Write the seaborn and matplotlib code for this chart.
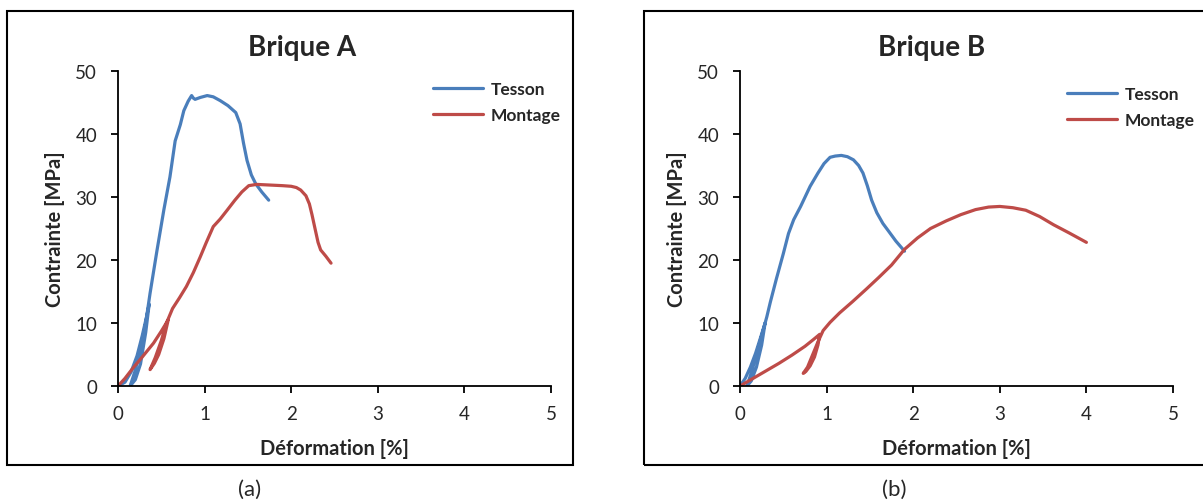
import pandas as pd
import matplotlib
matplotlib.use("Agg")
import matplotlib.pyplot as plt
import seaborn as sns
from matplotlib.patches import Rectangle

# Brique A
tesson_a_x = [0.0, 0.08, 0.15, 0.22, 0.28, 0.33, 0.36, 0.32, 0.26, 0.2, 0.14, 0.2, 0.27, 0.32, 0.37,
              0.45, 0.53, 0.6, 0.66, 0.72, 0.76, 0.81, 0.85, 0.87, 0.89, 0.95, 1.03, 1.1, 1.18,
              1.27, 1.36, 1.41, 1.45, 1.49, 1.54, 1.59, 1.66, 1.74]
tesson_a_y = [0.0, 0.6, 2.2, 4.8, 8.0, 11.0, 13.0, 8.5, 3.5, 1.0, 0.0, 2.5, 6.5, 10.0, 14.7,
              21.5, 28.0, 33.2, 38.9, 41.5, 43.7, 45.2, 46.1, 45.7, 45.5, 45.8, 46.1, 45.9, 45.3,
              44.5, 43.4, 41.6, 38.5, 35.8, 33.5, 32.1, 30.8, 29.5]
montage_a_x = [0.0, 0.08, 0.17, 0.28, 0.41, 0.5, 0.58, 0.53, 0.47, 0.42, 0.37, 0.43, 0.5, 0.56,
               0.63, 0.71, 0.79, 0.87, 0.95, 1.02, 1.1, 1.18, 1.26, 1.35, 1.43, 1.51, 1.6,
               1.75, 1.9, 2.0, 2.06, 2.11, 2.17, 2.21, 2.24, 2.27, 2.31, 2.34, 2.4, 2.46]
montage_a_y = [0.0, 1.2, 2.8, 4.6, 6.8, 8.7, 10.5, 7.5, 5.0, 3.6, 2.6, 4.5, 7.2, 10.0,
               12.3, 14.0, 15.8, 18.0, 20.5, 22.8, 25.3, 26.5, 27.9, 29.5, 30.8, 31.8, 32.0,
               31.9, 31.8, 31.7, 31.5, 31.1, 30.2, 28.9, 27.2, 25.3, 22.8, 21.6, 20.6, 19.5]

# Brique B
tesson_b_x = [0.0, 0.06, 0.12, 0.18, 0.24, 0.29, 0.25, 0.19, 0.13, 0.08, 0.14, 0.2, 0.26, 0.31,
              0.35, 0.42, 0.5, 0.56, 0.62, 0.7, 0.81, 0.9, 0.97, 1.04, 1.1, 1.17, 1.24, 1.31,
              1.37, 1.42, 1.47, 1.52, 1.58, 1.65, 1.72, 1.8, 1.9]
tesson_b_y = [0.0, 1.2, 3.0, 5.2, 7.8, 10.0, 6.5, 3.0, 0.8, 0.0, 2.5, 5.5, 8.5, 11.0,
              13.3, 17.0, 21.0, 24.2, 26.4, 28.5, 31.7, 33.8, 35.3, 36.3, 36.5, 36.6, 36.4, 35.9,
              35.0, 33.8, 31.8, 29.5, 27.5, 25.8, 24.5, 23.0, 21.4]
montage_b_x = [0.0, 0.15, 0.3, 0.45, 0.6, 0.75, 0.85, 0.92, 0.9, 0.86, 0.81, 0.76, 0.73, 0.78,
               0.84, 0.9, 0.96, 1.04, 1.15, 1.3, 1.46, 1.6, 1.75, 1.9, 2.05, 2.2, 2.38, 2.55,
               2.72, 2.87, 3.0, 3.15, 3.3, 3.46, 3.62, 3.8, 4.0]
montage_b_y = [0.0, 1.2, 2.4, 3.6, 4.9, 6.3, 7.4, 8.2, 6.5, 4.6, 3.2, 2.3, 2.0, 3.0,
               5.0, 7.0, 8.8, 10.1, 11.6, 13.4, 15.4, 17.2, 19.2, 21.7, 23.5, 25.0, 26.2, 27.2,
               28.0, 28.4, 28.5, 28.3, 27.9, 26.9, 25.6, 24.3, 22.8]

blue = "#4A7EBB"
red = "#BE4B48"

sns.set_style("white")
plt.rcParams["font.family"] = ["Lato", "DejaVu Sans"]

W, H = 1203, 502
fig = plt.figure(figsize=(12.03, 5.02), dpi=100)

# outer frames of the two panels
fig.patches.append(Rectangle((7 / W, 36 / H), 566 / W, 454 / H, transform=fig.transFigure,
                             fill=False, edgecolor="black", linewidth=1.5))
fig.patches.append(Rectangle((644 / W, 36 / H), 600 / W, 454 / H, transform=fig.transFigure,
                             fill=False, edgecolor="black", linewidth=1.5))

panels = [
    ("Brique A", "(a)", tesson_a_x, tesson_a_y, montage_a_x, montage_a_y, 118, 302, 433, 82, 250),
    ("Brique B", "(b)", tesson_b_x, tesson_b_y, montage_b_x, montage_b_y, 740, 932, 1067, 87, 894),
]

for title, cap, tx, ty, mx, my, left_px, title_px, leg_px, leg_top, cap_px in panels:
    ax = fig.add_axes([left_px / W, 1 - 387 / H, 433 / W, 315 / H])
    df_t = pd.DataFrame({"x": tx, "y": ty})
    df_m = pd.DataFrame({"x": mx, "y": my})
    sns.lineplot(data=df_t, x="x", y="y", sort=False, estimator=None, color=blue, linewidth=2.3,
                 label="Tesson", ax=ax)
    sns.lineplot(data=df_m, x="x", y="y", sort=False, estimator=None, color=red, linewidth=2.3,
                 label="Montage", ax=ax)
    ax.set_xlim(0, 5)
    ax.set_ylim(0, 50)
    ax.set_xticks(range(0, 6))
    ax.set_yticks(range(0, 51, 10))
    for s in ["top", "right"]:
        ax.spines[s].set_visible(False)
    for s in ["left", "bottom"]:
        ax.spines[s].set_color("black")
        ax.spines[s].set_linewidth(1.3)
    ax.tick_params(direction="out", length=5, width=1.3, color="black", labelsize=13.5,
                   bottom=True, left=True)
    ax.tick_params(axis="x", pad=9)
    ax.tick_params(axis="y", pad=10)
    ax.set_xlabel("Déformation [%]", fontsize=14.5, fontweight="bold")
    ax.set_ylabel("Contrainte [MPa]", fontsize=14.5, fontweight="bold")
    ax.xaxis.label.set_va("center")
    ax.yaxis.label.set_va("center")
    ax.xaxis.set_label_coords(0.5, (387 - 449) / 315)
    ax.yaxis.set_label_coords(-63 / 433, 0.5)
    fig.text(title_px / W, 1 - 48 / H, title, ha="center", va="center", fontsize=20,
             fontweight="bold")
    ax.legend(loc="upper left", bbox_to_anchor=(leg_px / W, 1 - leg_top / H),
              bbox_transform=fig.transFigure, frameon=False, handlelength=2.9, borderpad=0,
              borderaxespad=0, prop={"weight": "bold", "size": 12.5}, labelspacing=0.6,
              handletextpad=0.4)
    fig.text(cap_px / W, 1 - 490 / H, cap, ha="center", va="center", fontsize=16)

fig.savefig("out.png", dpi=100)
